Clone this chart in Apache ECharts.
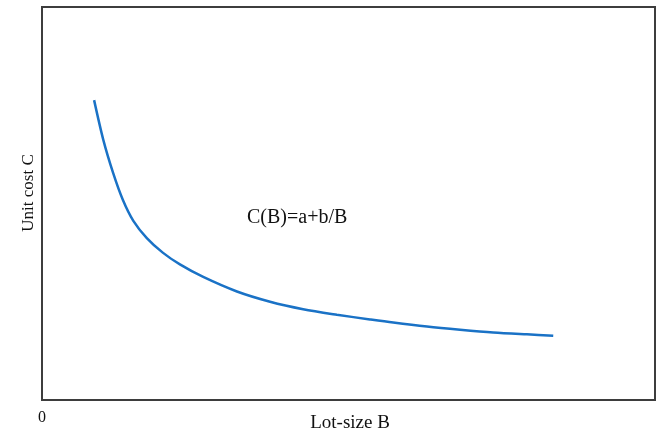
<!DOCTYPE html>
<html>
<head>
<meta charset="utf-8">
<script src="https://cdn.jsdelivr.net/npm/echarts@6/dist/echarts.min.js"></script>
<style>html,body{margin:0;padding:0;background:#fff}#c{width:659px;height:433px}</style>
</head>
<body>
<div id="c"></div>
<script>
// Lot size (x, relative units) and unit cost (y, relative units)
var lotSize = [8.5, 10.0, 11.6, 13.2, 14.9, 17.1, 19.7, 22.5, 26.3, 31.8, 37.2, 42.6, 48.1, 53.5, 57.3, 62.8, 68.2, 73.6, 79.1, 83.4];
var unitCost = [76.3, 66.2, 57.8, 50.9, 45.6, 41.2, 37.5, 34.5, 31.3, 27.6, 25.0, 23.1, 21.7, 20.5, 19.7, 18.7, 17.9, 17.2, 16.7, 16.35];
var xTickLabels = ['0'];
var curveLabel = 'C(B)=a+b/B';
var xName = 'Lot-size B';
var yName = 'Unit cost C';

var FONT = '"Liberation Serif", "DejaVu Serif", serif';
var pts = lotSize.map(function (x, i) { return [x, unitCost[i]]; });

var chart = echarts.init(document.getElementById('c'));
chart.setOption({
  animation: false,
  backgroundColor: '#ffffff',
  grid: { left: 42, right: 4, top: 7, bottom: 33, containLabel: false, outerBoundsMode: 'none',
          show: true, borderColor: '#3d3d3d', borderWidth: 2, backgroundColor: 'transparent' },
  xAxis: {
    type: 'value', min: 0, max: 100, interval: 100,
    axisLine: { show: false }, axisTick: { show: false }, splitLine: { show: false },
    axisLabel: {
      margin: 10, fontFamily: FONT, fontSize: 16, color: '#111',
      formatter: function (v) { return v === 0 ? xTickLabels[0] : ''; }
    }
  },
  yAxis: {
    type: 'value', min: 0, max: 100,
    axisLine: { show: false }, axisTick: { show: false }, splitLine: { show: false }, axisLabel: { show: false }
  },
  graphic: [
    { type: 'text', left: 247, top: 208, style: { text: curveLabel, font: '20px ' + FONT, fill: '#111' } },
    { type: 'text', x: 350, y: 423,
      style: { text: xName, font: '19px ' + FONT, fill: '#111', align: 'center', verticalAlign: 'middle' } },
    { type: 'text', x: 29, y: 193, rotation: Math.PI / 2,
      style: { text: yName, font: '17px ' + FONT, fill: '#111', align: 'center', verticalAlign: 'middle' } }
  ],
  series: [{
    type: 'line', data: pts, smooth: 0.3, showSymbol: false,
    lineStyle: { color: '#1a72c6', width: 2.5 }
  }]
});
</script>
</body>
</html>
